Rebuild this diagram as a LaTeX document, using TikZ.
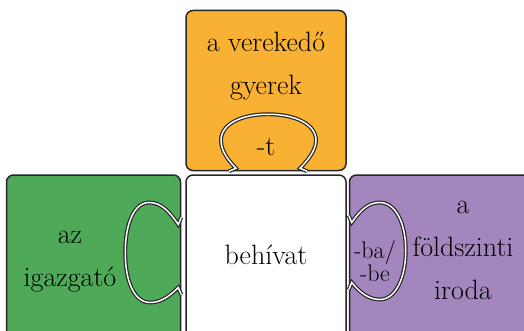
\documentclass[tikz,border=0pt]{standalone}
\usepackage{tikz}
\usetikzlibrary{positioning}
\definecolor{puzorange}{RGB}{248,177,50}
\definecolor{puzgreen}{RGB}{78,170,88}
\definecolor{puzviolet}{RGB}{164,134,190}

\begin{document}
\begin{tikzpicture}[x=1pt,y=1pt,
  piece/.style={draw=black!85,line width=1.5pt,rounded corners=7pt,inner sep=0pt},
  knob/.style={draw=black!85,line width=1.2pt,double=white,double distance=1.5pt},
  lbl/.style={font=\fontsize{28}{43}\selectfont,align=center,inner sep=0pt}]
  \useasboundingbox (0,0) rectangle (524,330);
  \clip (0,0) rectangle (524,330);
  % puzzle pieces
  \node[piece,fill=white,minimum width=160pt,minimum height=165pt] (verb) at (266,72.5) {};
  \node[piece,fill=puzorange,minimum width=160pt,minimum height=160pt,above=3pt of verb] (obj) {};
  \node[piece,fill=puzgreen,minimum width=174pt,minimum height=165pt,left=4pt of verb] (subj) {};
  \node[piece,fill=puzviolet,minimum width=192pt,minimum height=165pt,right=2pt of verb] (place) {};
  % knobs
  \begin{scope}[shift={(obj.south)}]
    \draw[knob] (-37,0) -- (-30,3) .. controls (-42,15) and (-45,24) .. (-45,31)
      .. controls (-45,47) and (-25,57) .. (2,57) .. controls (29,57) and (50,47) .. (50,31)
      .. controls (50,24) and (46,15) .. (34,3) -- (41,0);
  \end{scope}
  \begin{scope}[shift={(subj.east)}]
    \draw[knob] (0,40) -- (-3,33) .. controls (-12,46) and (-20,55) .. (-32,55)
      .. controls (-48,55) and (-56,32) .. (-56,5) .. controls (-56,-24) and (-47,-45) .. (-31,-45)
      .. controls (-20,-45) and (-11,-38) .. (-3,-30) -- (0,-37);
  \end{scope}
  \begin{scope}[shift={(place.west)}]
    \draw[knob] (0,42) -- (3,35) .. controls (12,48) and (20,55) .. (31,55)
      .. controls (47,55) and (57,34) .. (57,7) .. controls (57,-20) and (47,-42) .. (31,-42)
      .. controls (20,-42) and (11,-35) .. (3,-25) -- (0,-32);
  \end{scope}
  % texts
  \node[lbl] (objtxt) at (266,264) {a verekedő\\gyerek};
  \node[lbl] (acc) at (266,183) {-t};
  \node[lbl] (subjtxt) at (70,68) {az\\igazgató};
  \node[lbl] (verbtxt) at (266,75) {behívat};
  \node[lbl,font=\fontsize{24}{16}\selectfont] (ill) at (375,69) {-ba/\\-be};
  \node[lbl] (placetxt) at (463,80) {a\\földszinti\\iroda};
\end{tikzpicture}
\end{document}
